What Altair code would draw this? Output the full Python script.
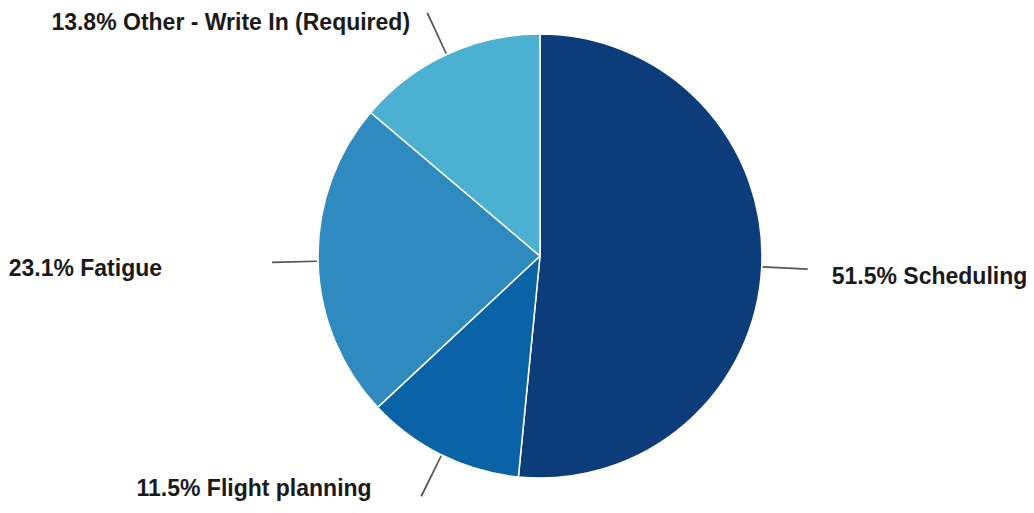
import altair as alt
import pandas as pd

categories = ["Scheduling", "Flight planning", "Fatigue", "Other - Write In (Required)"]
values = [51.5, 11.5, 23.1, 13.8]
colors = ["#0d3c7b", "#0a62a7", "#2e8abf", "#4cb0d3"]

df = pd.DataFrame({"category": categories, "value": values})
df["label"] = [f"{v:.1f}% {c}" for c, v in zip(categories, values)]

CX, CY = 532, 248
R = 222

base = alt.Chart(df).transform_window(
    idx="row_number()"
).transform_window(
    cum="sum(value)", sort=[alt.SortField("idx")], frame=[None, 0]
).transform_calculate(
    mid="datum.cum - datum.value / 2",
    t1="datum.cum - datum.value / 2 - 0.055",
    t2="datum.cum - datum.value / 2 + 0.055",
)

pie = base.mark_arc(radius=R, stroke="white", strokeWidth=1.5).encode(
    theta=alt.Theta("value:Q", stack=True),
    order=alt.Order("idx:Q"),
    color=alt.Color("category:N", scale=alt.Scale(domain=categories, range=colors), legend=None),
    x=alt.value(CX),
    y=alt.value(CY),
)

leaders = base.mark_arc(radius=R + 1, radius2=R + 46, color="#555555").encode(
    theta=alt.Theta("t1:Q", stack=None),
    theta2="t2:Q",
    x=alt.value(CX),
    y=alt.value(CY),
)

label_cfg = {
    "Scheduling": dict(align="left", dx=52, dy=16),
    "Flight planning": dict(align="right", dx=-62, dy=25),
    "Fatigue": dict(align="right", dx=-138, dy=14),
    "Other - Write In (Required)": dict(align="right", dx=-29, dy=-8),
}

texts = []
for cat, cfg in label_cfg.items():
    t = base.transform_filter(alt.datum.category == cat).mark_text(
        radius=240, font="Liberation Sans", fontWeight="bold", fontSize=23,
        color="#1a1a1a", baseline="alphabetic", **cfg
    ).encode(
        theta=alt.Theta("mid:Q", stack=None),
        text="label:N",
        x=alt.value(CX),
        y=alt.value(CY),
    )
    texts.append(t)

chart = alt.layer(pie, leaders, *texts).properties(
    width=1018, height=494, padding=0,
    autosize=alt.AutoSizeParams(type="none"),
).configure_view(stroke=None)

chart.save("out.html", embed_options={"renderer": "svg", "actions": False})
